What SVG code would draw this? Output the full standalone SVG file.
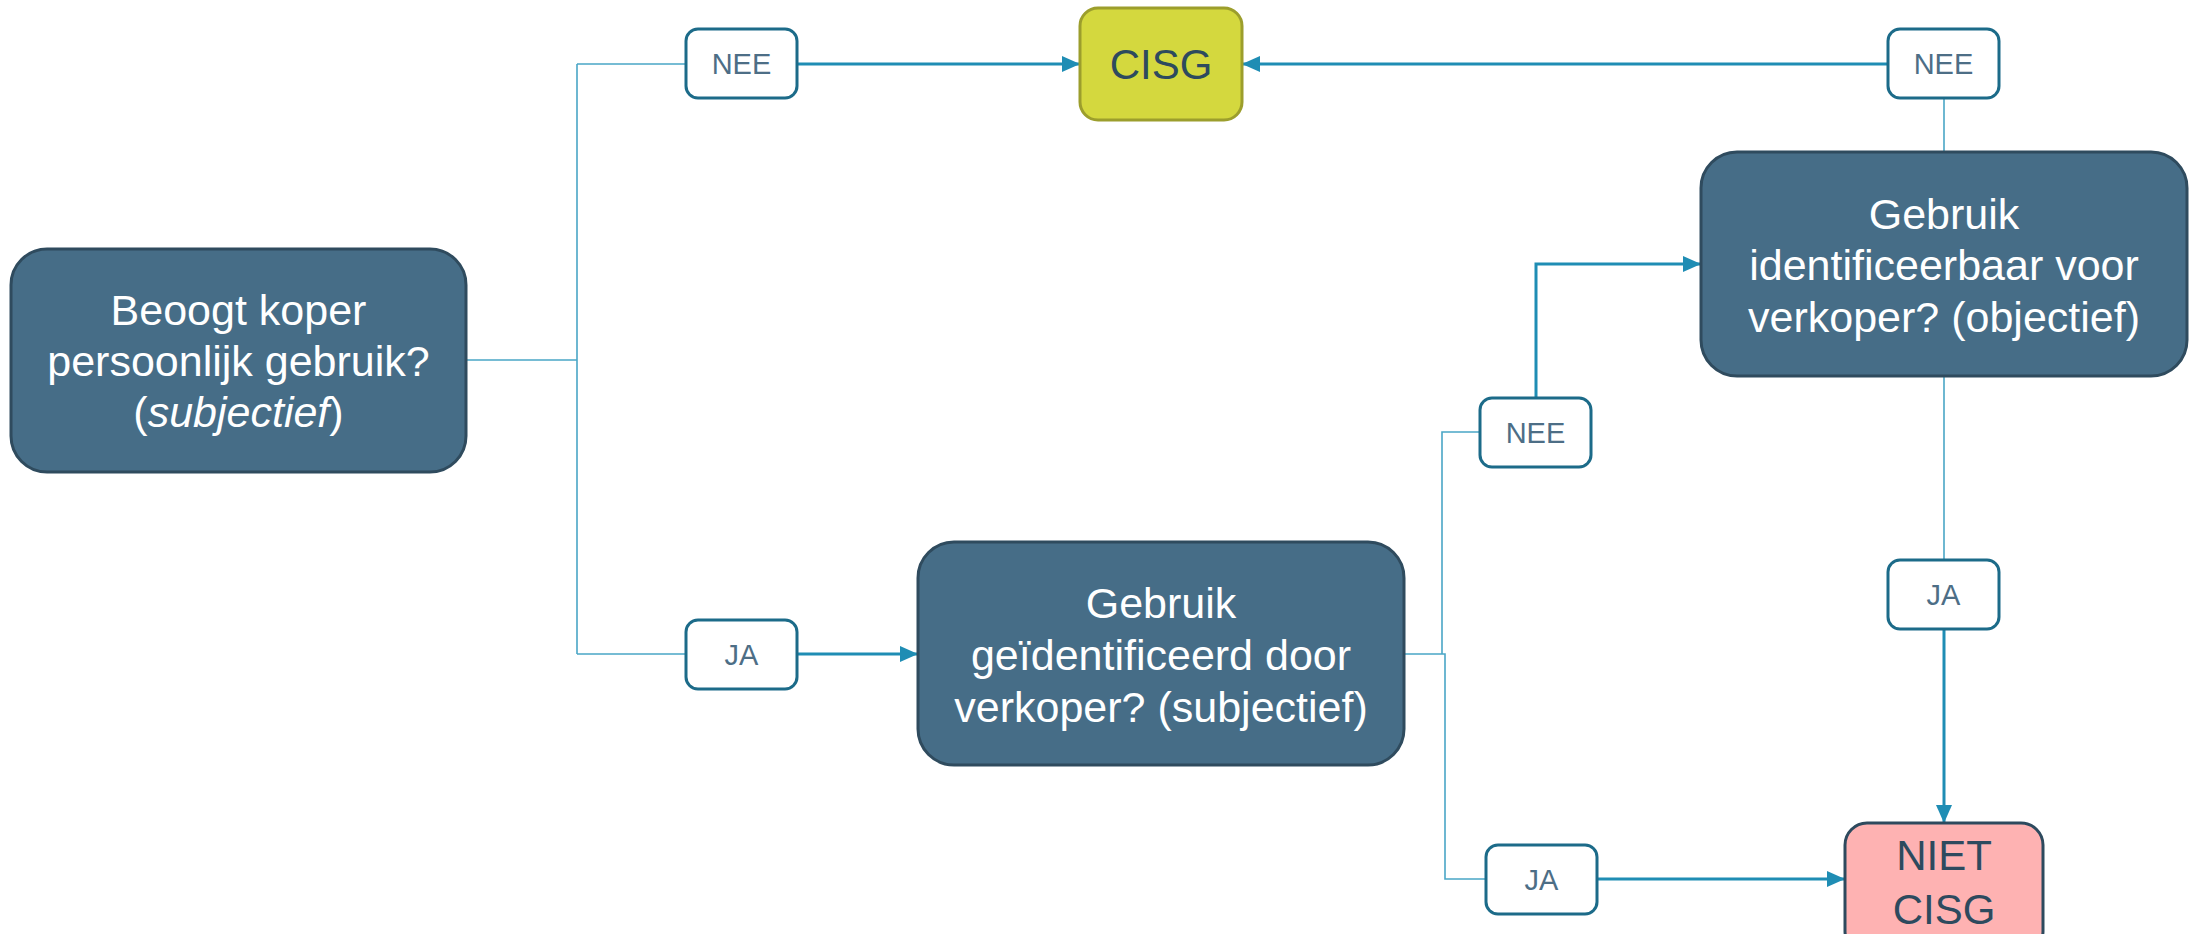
<svg xmlns="http://www.w3.org/2000/svg" width="2190" height="934" viewBox="0 0 2190 934">
<style>
.q{fill:#466d87;stroke:#2f4b5e;stroke-width:3}
.qt{font-family:"Liberation Sans",Arial,sans-serif;font-size:43px;fill:#ffffff;text-anchor:middle}
.lb{fill:#ffffff;stroke:#1c6b89;stroke-width:3}
.lt{font-family:"Liberation Sans",Arial,sans-serif;font-size:29px;fill:#4d6e86;text-anchor:middle}
.thin{fill:none;stroke:#4aa6c6;stroke-width:1.6}
.thick{fill:none;stroke:#1f8db4;stroke-width:3;marker-end:url(#ah)}
.rt{font-family:"Liberation Sans",Arial,sans-serif;font-size:42px;fill:#2d4a5e;text-anchor:middle}
</style>
<defs>
<marker id="ah" markerUnits="userSpaceOnUse" markerWidth="18" markerHeight="16" refX="18" refY="8" orient="auto">
<path d="M0,0 L18,8 L0,16 Z" fill="#1f8db4"/>
</marker>
</defs>
<g id="connectors">
<path class="thin" d="M466 360 H577 M577 64 V654 M577 64 H686 M577 654 H686"/>
<path class="thin" d="M1944 98 V152"/>
<path class="thin" d="M1944 376 V560"/>
<path class="thin" d="M1404 654 H1445 V879 H1486"/>
<path class="thin" d="M1442 654 V432 H1480"/>
<path class="thick" d="M796 64 H1080"/>
<path class="thick" d="M1888 64 H1242"/>
<path class="thick" d="M796 654 H918"/>
<path class="thick" d="M1536 398 V264 H1701"/>
<path class="thick" d="M1944 627 V823"/>
<path class="thick" d="M1596 879 H1845"/>
</g>
<g id="node-beoogt">
<rect class="q" x="11" y="249" width="455" height="223" rx="36"/>
<text class="qt" x="238.5" y="325">Beoogt koper</text>
<text class="qt" x="238.5" y="376">persoonlijk gebruik?</text>
<text class="qt" x="238.5" y="427">(<tspan font-style="italic">subjectief</tspan>)</text>
</g>
<g id="node-geidentificeerd">
<rect class="q" x="918" y="542" width="486" height="223" rx="36"/>
<text class="qt" x="1161" y="618">Gebruik</text>
<text class="qt" x="1161" y="670">geïdentificeerd door</text>
<text class="qt" x="1161" y="722">verkoper? (subjectief)</text>
</g>
<g id="node-identificeerbaar">
<rect class="q" x="1701" y="152" width="486" height="224" rx="36"/>
<text class="qt" x="1944" y="229">Gebruik</text>
<text class="qt" x="1944" y="280">identificeerbaar voor</text>
<text class="qt" x="1944" y="332">verkoper? (objectief)</text>
</g>
<g id="node-cisg">
<rect x="1080" y="8" width="162" height="112" rx="18" fill="#d4d83e" stroke="#9c9e2c" stroke-width="3"/>
<text class="rt" x="1161" y="79">CISG</text>
</g>
<g id="node-niet-cisg">
<rect x="1845" y="823" width="198" height="130" rx="22" fill="#feb2b2" stroke="#2d4a5e" stroke-width="3"/>
<text class="rt" x="1944" y="870">NIET</text>
<text class="rt" x="1944" y="924">CISG</text>
</g>
<g id="label-nee-1">
<rect class="lb" x="686" y="29" width="111" height="69" rx="12"/>
<text class="lt" x="741.5" y="74">NEE</text>
</g>
<g id="label-nee-2">
<rect class="lb" x="1888" y="29" width="111" height="69" rx="12"/>
<text class="lt" x="1943.5" y="74">NEE</text>
</g>
<g id="label-nee-3">
<rect class="lb" x="1480" y="398" width="111" height="69" rx="12"/>
<text class="lt" x="1535.5" y="443">NEE</text>
</g>
<g id="label-ja-1">
<rect class="lb" x="686" y="620" width="111" height="69" rx="12"/>
<text class="lt" x="741.5" y="665">JA</text>
</g>
<g id="label-ja-2">
<rect class="lb" x="1888" y="560" width="111" height="69" rx="12"/>
<text class="lt" x="1943.5" y="605">JA</text>
</g>
<g id="label-ja-3">
<rect class="lb" x="1486" y="845" width="111" height="69" rx="12"/>
<text class="lt" x="1541.5" y="890">JA</text>
</g>
</svg>
